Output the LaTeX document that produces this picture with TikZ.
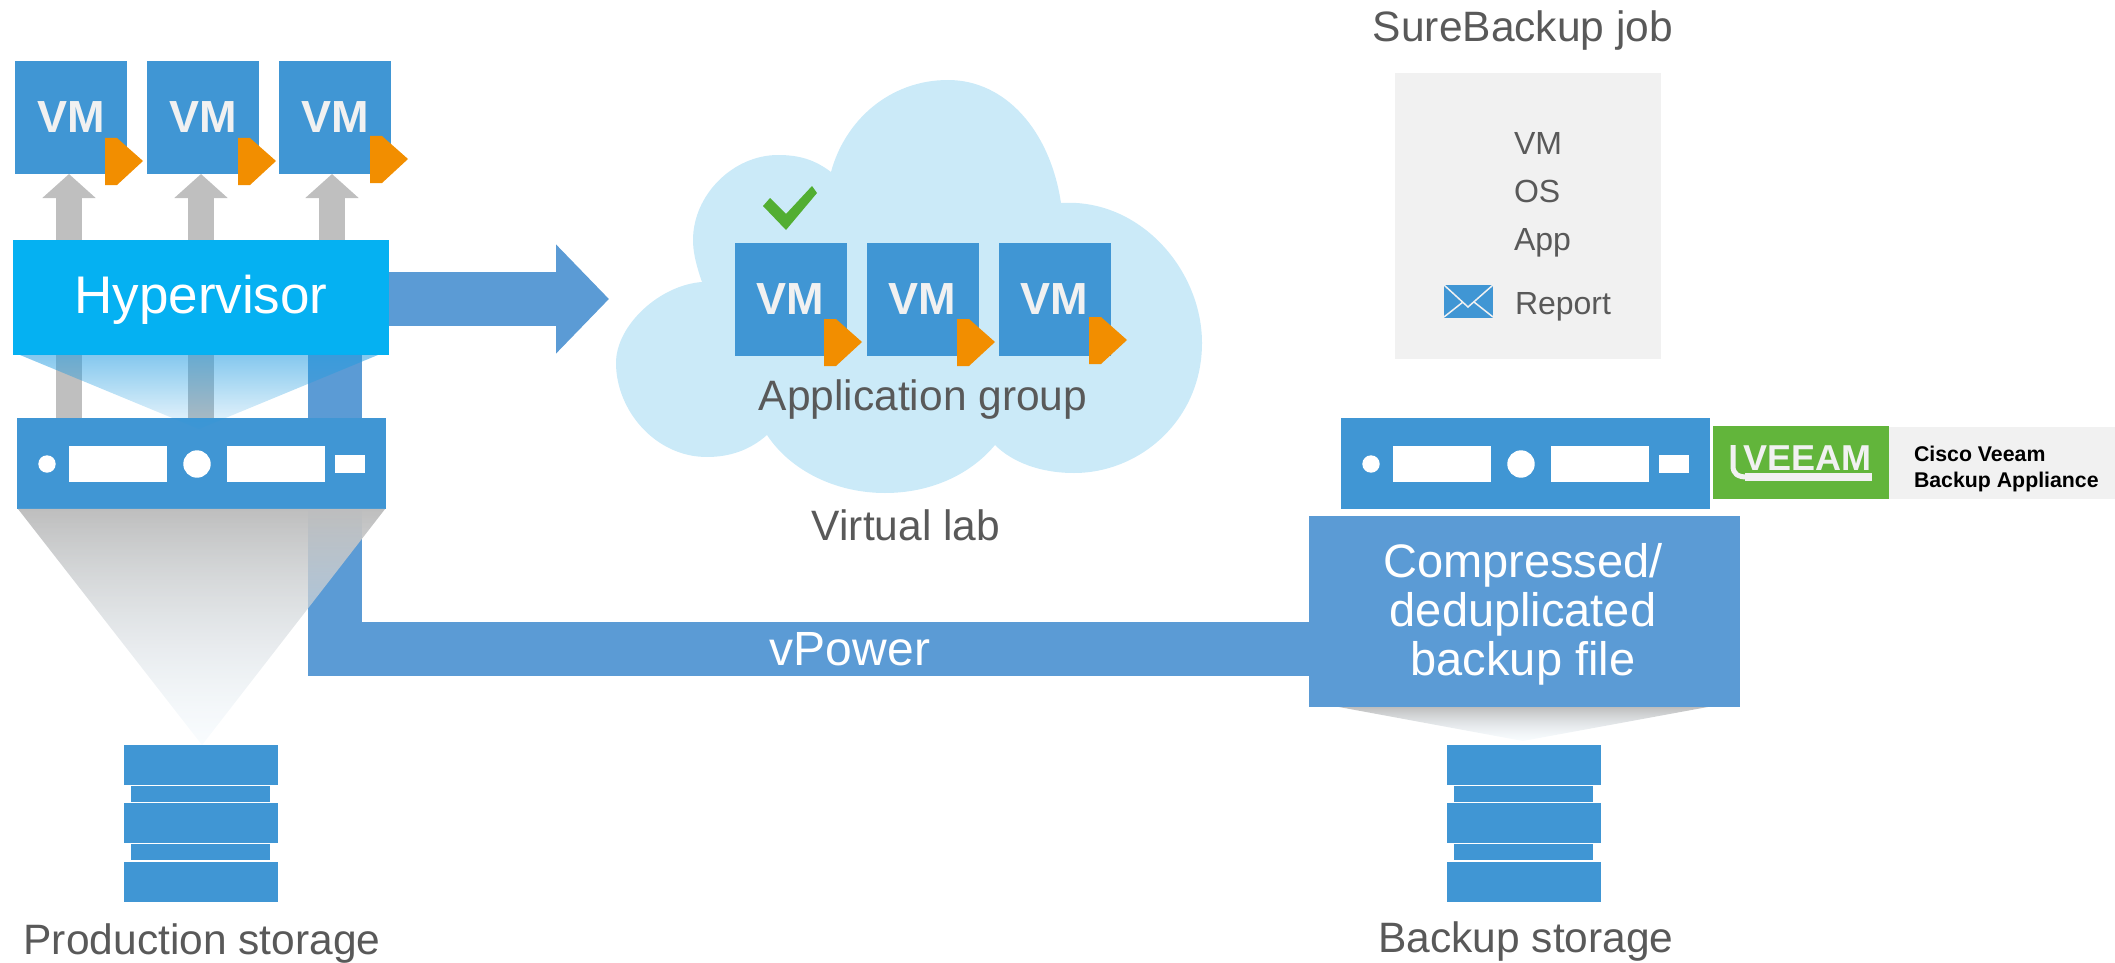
\documentclass[tikz,border=0pt]{standalone}
\usepackage{fontspec}
\setmainfont{Liberation Sans}
\usetikzlibrary{arrows.meta,fadings}

\definecolor{vmblue}{HTML}{4096D4}
\definecolor{bandblue}{HTML}{5B9BD5}
\definecolor{hvblue}{HTML}{05B1F2}
\definecolor{beamblue}{HTML}{219BE0}
\definecolor{beamgrey}{HTML}{BEBEBE}
\definecolor{beamend}{HTML}{EBF5FC}
\definecolor{cloudblue}{HTML}{CBEAF8}
\definecolor{playorange}{HTML}{F28E00}
\definecolor{arrowgrey}{HTML}{BFBFBF}
\definecolor{panelgrey}{HTML}{F1F1F1}
\definecolor{textgrey}{HTML}{595959}
\definecolor{checkgreen}{HTML}{52AE32}
\definecolor{veeamgreen}{HTML}{62B53B}

\tikzfading[name=hvfade, top color=transparent!45, bottom color=transparent!92]
\tikzfading[name=greyfade, top color=transparent!0, bottom color=transparent!70]

\tikzset{
  every node/.style = {inner sep = 0pt, outer sep = 0pt},
  vmbox/.style = {fill = vmblue, text = panelgrey, minimum width = 112pt, minimum height = 113pt, font = \fontsize{45}{45}\selectfont\bfseries},
  label/.style = {text = textgrey, anchor = base, font = \fontsize{42.5}{42.5}\selectfont},
  jobitem/.style = {text = textgrey, anchor = base west, font = \fontsize{32}{32}\selectfont},
  serverbox/.style = {fill = vmblue, minimum width = 369pt, minimum height = 91pt},
  disk/.style = {fill = vmblue, minimum width = 154pt, minimum height = 40pt},
  thindisk/.style = {fill = vmblue, minimum width = 139pt, minimum height = 16pt},
  greybeam/.style = {top color = beamgrey, bottom color = beamend, path fading = greyfade},
  vmarrow/.style = {arrowgrey, line width = 26pt, -{Triangle[length = 24pt, width = 52pt]}},
  bandline/.style = {bandblue, line width = 54pt, line join = miter},
  bigarrow/.style = {bandblue, line width = 54pt, -{Triangle[length = 53pt, width = 106pt]}}
}

\newcommand{\playmark}[2]{\fill[playorange] (#1,#2) -- ++(12,0) -- ++(26,23) -- ++(-26,24) -- ++(-12,0) -- cycle;}
\newcommand{\serverholes}[1]{
\fill[white] (#1+47,464) circle (8.7);
\fill[white] (#1+69,446) rectangle (#1+167,482);
\fill[white] (#1+197,464) circle (13.7);
\fill[white] (#1+227,446) rectangle (#1+325,482);
\fill[white] (#1+335,455) rectangle (#1+365,473);
}

\begin{document}
\begin{tikzpicture}[x = 1pt, y = -1pt]
\useasboundingbox (0,0) rectangle (2115,963);

\fill[cloudblue] (831,172) .. controls (845,120) and (890,80) .. (948,80)
  .. controls (1005,80) and (1050,130) .. (1061,203)
  .. controls (1140,198) and (1202,270) .. (1202,343)
  .. controls (1202,420) and (1140,473) .. (1074,473)
  .. controls (1040,473) and (1012,462) .. (995,445)
  .. controls (970,475) and (930,493) .. (885,493)
  .. controls (835,493) and (790,470) .. (767,435)
  .. controls (750,450) and (730,457) .. (707,457)
  .. controls (655,457) and (616,410) .. (616,363)
  .. controls (616,325) and (660,285) .. (702,282)
  .. controls (695,262) and (693,250) .. (693,240)
  .. controls (693,195) and (733,155) .. (778,155)
  .. controls (800,155) and (815,160) .. (831,172) -- cycle;

\foreach \i/\x in {1/71,2/203,3/335}
  \node[vmbox] (vm\i) at (\x,117.5) {VM};
\foreach \i/\x in {1/790.5,2/922.5,3/1054.5}
  \node[vmbox] (labvm\i) at (\x,299) {VM};

\coordinate (low1) at (69,418);
\coordinate (low2) at (201,418);
\coordinate (low3) at (332,300);
\draw[vmarrow] (low1) -- (low1 |- vm1.south);
\draw[vmarrow] (low2) -- (low2 |- vm2.south);
\draw[vmarrow] (low3) -- (low3 |- vm3.south);

\coordinate (bandtop) at (335,340);
\coordinate (bandend) at (1320,649);
\draw[bandline] (bandtop) |- (bandend);

\node[fill = hvblue, minimum width = 376pt, minimum height = 115pt] (hypervisor) at (201,297.5) {};
\node[text = white, font = \fontsize{53}{53}\selectfont] (hvtext) at (201,299.5) {Hypervisor};
\coordinate (labin) at (609,299);
\draw[bigarrow] (hypervisor.east |- labin) -- (labin);

\node[serverbox] (prodserver) at (201.5,463.5) {};
\serverholes{0}
\node[serverbox] (backupserver) at (1525.5,463.5) {};
\serverholes{1324}

\fill[beamblue, path fading = hvfade] (20,355) -- (378,355) -- (199,429) -- cycle;
\shade[greybeam] (18,509) -- (385,509) -- (202,745) -- cycle;
\shade[greybeam] (1339,707) -- (1708,707) -- (1523,741) -- cycle;

\playmark{105}{138}
\playmark{238}{138}
\playmark{370}{136}
\playmark{824}{319}
\playmark{957}{319}
\playmark{1089}{317}

\fill[checkgreen] (763,206) -- (770,198) -- (786,214) -- (812,186) -- (817,193) -- (786,230) -- cycle;

\node[label] (appgroup) at (923,410.5) {Application group};
\node[label] (virtuallab) at (906,540) {Virtual lab};
\node[label] (prodstorage) at (202,954) {Production storage};
\node[label] (backupstorage) at (1526,952) {Backup storage};
\node[label] (jobtitle) at (1523,41.5) {SureBackup job};

\node[fill = panelgrey, minimum width = 266pt, minimum height = 286pt] (jobpanel) at (1528,216) {};
\node[jobitem] (jobvm) at (1514,154) {VM};
\node[jobitem] (jobos) at (1514,202) {OS};
\node[jobitem] (jobapp) at (1514,250) {App};
\node[jobitem] (jobreport) at (1515,314) {Report};
\fill[vmblue] (1444,285) rectangle (1493,318);
\draw[panelgrey, line width = 1.5pt] (1444,285) -- (1468,307) -- (1493,285);
\draw[panelgrey, line width = 1.5pt] (1444,317) -- (1463,302);
\draw[panelgrey, line width = 1.5pt] (1493,317) -- (1474,302);

\node[fill = panelgrey, minimum width = 226pt, minimum height = 72pt] (ciscopanel) at (2002,463) {};
\node[fill = veeamgreen, minimum width = 176pt, minimum height = 73pt] (veeambox) at (1801,462.5) {};
\node[text = panelgrey, anchor = base west, font = \fontsize{36}{36}\selectfont\bfseries] (veeamname) at (1743,470) {VEEAM};
\draw[panelgrey, line width = 5pt] (1733,445) -- (1733,466) .. controls (1733,474) and (1738,477) .. (1747,477);
\draw[panelgrey, line width = 8pt] (1745,477) -- (1872,477);
\node[anchor = base west, font = \fontsize{21.3}{26}\selectfont\bfseries] (ciscotext) at (1914,461) {Cisco Veeam};
\node[anchor = base west, font = \fontsize{21.3}{26}\selectfont\bfseries] (ciscotext2) at (1914,487) {Backup Appliance};

\node[fill = bandblue, minimum width = 431pt, minimum height = 191pt] (filebox) at (1524.5,611.5) {};
\node[text = white, align = center, font = \fontsize{47}{49}\selectfont] (filetext) at (1523,614) {Compressed/\\deduplicated\\backup file};
\node[anchor = base, text = white, font = \fontsize{48}{48}\selectfont] (vpower) at (850,665) {vPower};

\foreach \i/\x in {1/201,2/1524}{
  \node[disk] (disktop\i) at (\x,765) {};
  \node[thindisk] (thinone\i) at (\x-1,794) {};
  \node[disk] (diskmid\i) at (\x,823) {};
  \node[thindisk] (thintwo\i) at (\x-1,852) {};
  \node[disk] (diskbot\i) at (\x,882) {};
}
\end{tikzpicture}
\end{document}
